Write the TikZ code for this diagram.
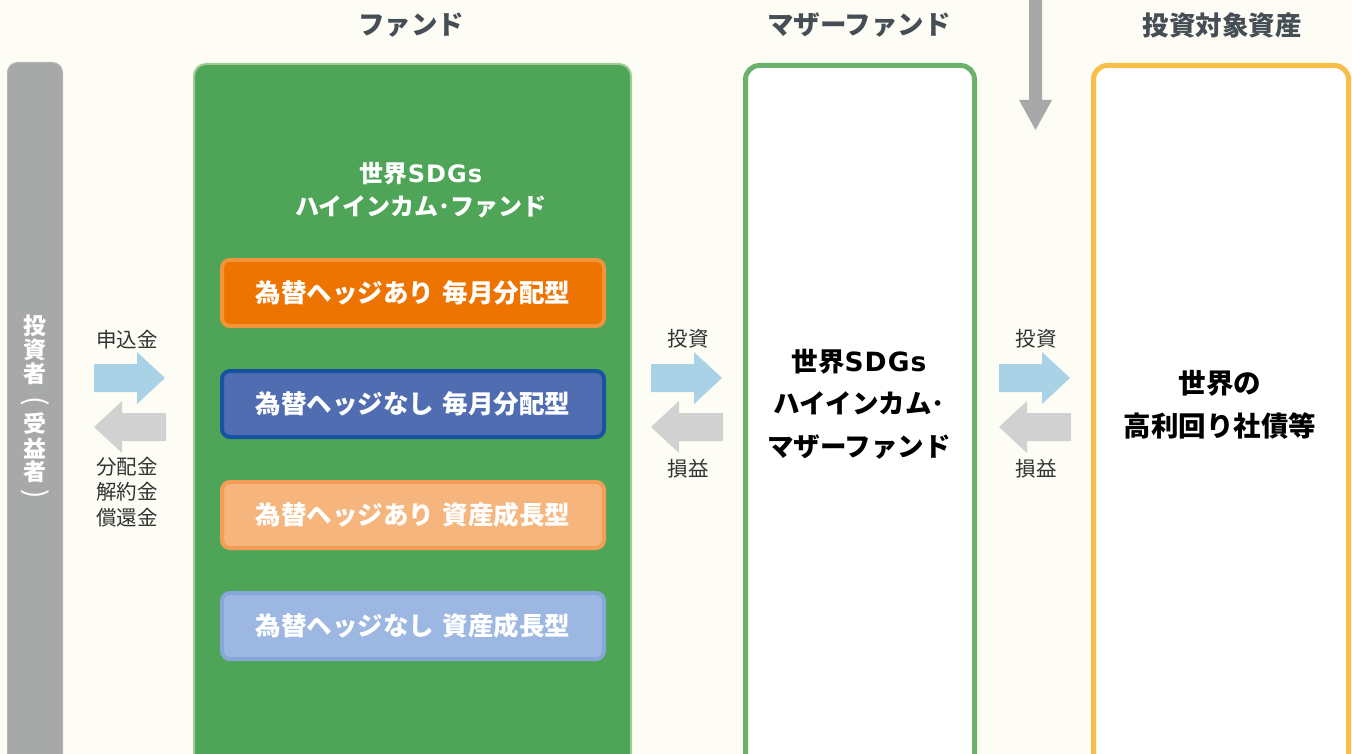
\documentclass[tikz,border=0pt]{standalone}
\usepackage{fontspec}
\setmainfont{Noto Sans CJK JP}
\newfontfamily\latn{DejaVu Sans}[LetterSpace=4]
\definecolor{bgc}{HTML}{FDFDF5}
\definecolor{barc}{HTML}{A7A9A8}
\definecolor{barb}{HTML}{B3B5B4}
\definecolor{greenf}{HTML}{4EA557}
\definecolor{greenb}{HTML}{9FCB98}
\definecolor{orf}{HTML}{EE7402}
\definecolor{orb}{HTML}{F3943A}
\definecolor{blf}{HTML}{4F6DB0}
\definecolor{blb}{HTML}{1753A0}
\definecolor{lof}{HTML}{F5B57C}
\definecolor{lob}{HTML}{F39D56}
\definecolor{lbf}{HTML}{9CB7E1}
\definecolor{lbb}{HTML}{87A7D8}
\definecolor{motherb}{HTML}{6BB06B}
\definecolor{assetb}{HTML}{F9BE4A}
\definecolor{headc}{HTML}{464E55}
\definecolor{arrblue}{HTML}{A9D2E6}
\definecolor{arrgray}{HTML}{D1D1D1}
\definecolor{labc}{HTML}{333333}
\begin{document}
\begin{tikzpicture}[x=1pt,y=-1pt,
  head/.style={font=\fontsize{26.5}{30}\selectfont\bfseries, text=headc, inner sep=0},
  subbox/.style={rounded corners=8, line width=4},
  subtext/.style={font=\fontsize{25.5}{28}\selectfont\bfseries, text=white, inner sep=0},
  lab/.style={font=\fontsize{20.5}{25.5}\selectfont, text=labc, align=center, inner sep=0},
  vchar/.style={font=\fontsize{23}{25}\selectfont\bfseries, text=white, inner sep=0},
  vparen/.style={font=\fontsize{28}{30}\selectfont, text=white, inner sep=0, rotate=-90},
  bigtext/.style={font=\fontsize{26.5}{42.5}\selectfont\bfseries, text=black, align=center, inner sep=0},
  rarrow/.pic={\fill[arrblue] (0,-14) -- (43,-14) -- (43,-26) -- (71,0) -- (43,26) -- (43,14) -- (0,14) -- cycle;},
  larrow/.pic={\fill[arrgray] (0,0) -- (28,-26) -- (28,-14) -- (72,-14) -- (72,14) -- (28,14) -- (28,26) -- cycle;}
]
\useasboundingbox (0,0) rectangle (1352,754);
\fill[bgc] (0,0) rectangle (1352,754);

% headings
\node[head] (hfund) at (411,25) {ファンド};
\node[head] (hmother) at (859,25) {マザーファンド};
\node[head] (hasset) at (1222,25) {投資対象資産};

% investor bar
\draw[fill=barc, draw=barb, line width=1, rounded corners=10] (7.5,62.5) rectangle (62.5,800);
\node[vchar] (v1) at (35,326) {投};
\node[vchar] (v2) at (35,350) {資};
\node[vchar] (v3) at (35,374) {者};
\node[vparen] (v4) at (35,401) {(};
\node[vchar] (v5) at (35,424) {受};
\node[vchar] (v6) at (35,448) {益};
\node[vchar] (v7) at (35,472) {者};
\node[vparen] (v8) at (35,494) {)};

% fund box
\draw[fill=greenf, draw=greenb, line width=2, rounded corners=12] (194,64) rectangle (631,800);
\node[font=\fontsize{24}{33}\selectfont\bfseries, text=white, align=center, inner sep=0] (fundtitle) at (421,190)
  {世界{\latn\bfseries SDGs}\\ハイインカム･ファンド};

\draw[subbox, fill=orf, draw=orb] (222,260) rectangle (604,326);
\node[subtext] (f1) at (413,293) {為替ヘッジあり\hspace{0.35em}毎月分配型};
\draw[subbox, fill=blf, draw=blb] (222,371) rectangle (604,437);
\node[subtext] (f2) at (413,404) {為替ヘッジなし\hspace{0.35em}毎月分配型};
\draw[subbox, fill=lof, draw=lob] (222,482) rectangle (604,548);
\node[subtext] (f3) at (413,515) {為替ヘッジあり\hspace{0.35em}資産成長型};
\draw[subbox, fill=lbf, draw=lbb] (222,593) rectangle (604,659);
\node[subtext] (f4) at (413,626) {為替ヘッジなし\hspace{0.35em}資産成長型};

% mother fund box
\draw[fill=white, draw=motherb, line width=5, rounded corners=14] (745.5,65.5) rectangle (974.5,800);
\node[bigtext] (mothertext) at (859,404) {世界{\latn\bfseries SDGs}\\ハイインカム･\\マザーファンド};

% asset box
\draw[fill=white, draw=assetb, line width=5, rounded corners=14] (1093.5,65.5) rectangle (1348.5,800);
\node[bigtext, font=\fontsize{27.5}{43}\selectfont\bfseries] (assettext) at (1220,405) {世界の\\高利回り社債等};

% top down arrow
\fill[barc] (1029,-5) -- (1042,-5) -- (1042,100) -- (1052,100) -- (1035.5,130) -- (1019,100) -- (1029,100) -- cycle;

% arrows: investor <-> fund
\pic at (94,378) {rarrow};
\pic at (94,427) {larrow};
\node[lab] (l1) at (127,340) {申込金};
\node[lab] (l2) at (127,492) {分配金\\解約金\\償還金};

% fund <-> mother
\pic at (651,378) {rarrow};
\pic at (651,427) {larrow};
\node[lab] (l3) at (688,339) {投資};
\node[lab] (l4) at (688,469) {損益};

% mother <-> asset
\pic at (999,378) {rarrow};
\pic at (999,427) {larrow};
\node[lab] (l5) at (1036,339) {投資};
\node[lab] (l6) at (1036,469) {損益};
\end{tikzpicture}
\end{document}
